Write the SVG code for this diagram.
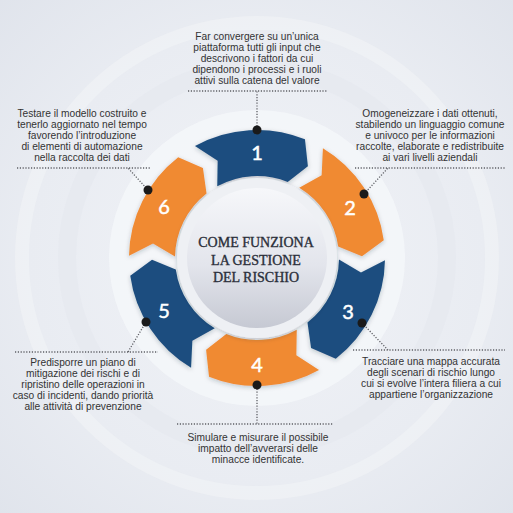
<svg xmlns="http://www.w3.org/2000/svg" xmlns:xlink="http://www.w3.org/1999/xlink" width="513" height="513" viewBox="0 0 513 513">
  <defs>
    <radialGradient id="bg" cx="257" cy="258" r="380" gradientUnits="userSpaceOnUse">
      <stop offset="0" stop-color="#f1f3f7"/>
      <stop offset="0.6" stop-color="#e9ecf2"/>
      <stop offset="1" stop-color="#dfe3eb"/>
    </radialGradient>
    <linearGradient id="disk" x1="0" y1="0" x2="0" y2="1">
      <stop offset="0" stop-color="#f6f7fa"/>
      <stop offset="0.55" stop-color="#e3e5ec"/>
      <stop offset="1" stop-color="#c6c9d3"/>
    </linearGradient>
    <filter id="sh" x="-20%" y="-20%" width="140%" height="140%">
      <feDropShadow dx="0" dy="1.5" stdDeviation="2" flood-color="#1a2a40" flood-opacity="0.25"/>
    </filter>
    <path id="seg" d="M-62.05,-111.95 A128,128 0 0 1 47.95,-118.68 L50.9,-91.83 L30.72,-76.03 A82,82 0 0 0 -39.75,-71.72 L-39.33,-97.36 Z"/>
    <style>
      .blue { fill: #1d4e7f; }
      .orange { fill: #f08a33; }
      .num { font-family: Lato, "Open Sans", sans-serif; font-size: 20px; fill: #ffffff; stroke: #ffffff; stroke-width: 0.5; text-anchor: middle; }
      .lbl { font-family: "Liberation Sans", Arial, sans-serif; font-size: 10.2px; fill: #333333; text-anchor: middle; }
      .title { font-family: "Liberation Serif", "Times New Roman", serif; font-size: 14px; fill: #2b2f3a; stroke: #2b2f3a; stroke-width: 0.35; text-anchor: middle; }
      .dot { fill: #1a1a1a; }
      .dl { stroke: #5f6066; stroke-width: 1.3; stroke-dasharray: 1.2 1.6; fill: none; }
    </style>
  </defs>

  <!-- background -->
  <rect width="513" height="513" fill="url(#bg)"/>
  <circle cx="257" cy="258" r="235" fill="none" stroke="#f3f5f8" stroke-width="14" opacity="0.5"/>
  <circle cx="257" cy="258" r="190" fill="none" stroke="#e5e8ee" stroke-width="18" opacity="0.6"/>
  <circle cx="257" cy="258" r="148" fill="#f5f7fa" opacity="0.8"/>

  <!-- ring segments -->
  <g id="segments" filter="url(#sh)">
    <g id="node1"><use xlink:href="#seg" class="blue" transform="translate(257 258)"/></g>
    <g id="node2"><use xlink:href="#seg" class="orange" transform="translate(257 258) rotate(60)"/></g>
    <g id="node3"><use xlink:href="#seg" class="blue" transform="translate(257 258) rotate(120)"/></g>
    <g id="node4"><use xlink:href="#seg" class="orange" transform="translate(257 258) rotate(180)"/></g>
    <g id="node5"><use xlink:href="#seg" class="blue" transform="translate(257 258) rotate(240)"/></g>
    <g id="node6"><use xlink:href="#seg" class="orange" transform="translate(257 258) rotate(300)"/></g>
  </g>

  <g id="numbers">
    <text class="num" x="257" y="160">1</text>
    <text class="num" x="350" y="215">2</text>
    <text class="num" x="348" y="319">3</text>
    <text class="num" x="257" y="372">4</text>
    <text class="num" x="164" y="318">5</text>
    <text class="num" x="164" y="214">6</text>
  </g>

  <!-- center -->
  <g id="center">
    <circle cx="257" cy="258" r="80" fill="#eef0f4" filter="url(#sh)"/>
    <circle cx="257" cy="258" r="70" fill="url(#disk)"/>
    <text class="title" x="256" y="247">COME FUNZIONA</text>
    <text class="title" x="256" y="265">LA GESTIONE</text>
    <text class="title" x="256" y="282">DEL RISCHIO</text>
  </g>

  <!-- connectors -->
  <g id="connectors">
    <path class="dl" d="M257,129 V91 M188,91 H327"/>
    <path class="dl" d="M364,194 L388,168 M355,168 H505"/>
    <path class="dl" d="M362,323 L388,350 M353,350 H505"/>
    <path class="dl" d="M257,386 V424 M177,424 H333"/>
    <path class="dl" d="M146,322 L128,352 M15,352 H158"/>
    <path class="dl" d="M148,190 L128,168 M17,168 H150"/>
    <circle class="dot" cx="257" cy="130" r="4.5"/>
    <circle class="dot" cx="364" cy="194" r="4.5"/>
    <circle class="dot" cx="362" cy="323" r="4.5"/>
    <circle class="dot" cx="257" cy="385" r="4.5"/>
    <circle class="dot" cx="146" cy="322" r="4.5"/>
    <circle class="dot" cx="148" cy="190" r="4.5"/>
  </g>

  <!-- labels -->
  <g id="label1">
    <text class="lbl" x="257" y="40">Far convergere su un’unica</text>
    <text class="lbl" x="257" y="51">piattaforma tutti gli input che</text>
    <text class="lbl" x="257" y="62">descrivono i fattori da cui</text>
    <text class="lbl" x="257" y="73">dipendono i processi e i ruoli</text>
    <text class="lbl" x="257" y="84">attivi sulla catena del valore</text>
  </g>
  <g id="label2">
    <text class="lbl" x="430" y="117">Omogeneizzare i dati ottenuti,</text>
    <text class="lbl" x="430" y="128">stabilendo un linguaggio comune</text>
    <text class="lbl" x="430" y="139">e univoco per le informazioni</text>
    <text class="lbl" x="430" y="150">raccolte, elaborate e redistribuite</text>
    <text class="lbl" x="430" y="161">ai vari livelli aziendali</text>
  </g>
  <g id="label3">
    <text class="lbl" x="431" y="365">Tracciare una mappa accurata</text>
    <text class="lbl" x="431" y="376">degli scenari di rischio lungo</text>
    <text class="lbl" x="431" y="387">cui si evolve l’intera filiera a cui</text>
    <text class="lbl" x="431" y="398">appartiene l’organizzazione</text>
  </g>
  <g id="label4">
    <text class="lbl" x="258" y="441">Simulare e misurare il possibile</text>
    <text class="lbl" x="258" y="452">impatto dell’avverarsi delle</text>
    <text class="lbl" x="258" y="463">minacce identificate.</text>
  </g>
  <g id="label5">
    <text class="lbl" x="83" y="366">Predisporre un piano di</text>
    <text class="lbl" x="83" y="377">mitigazione dei rischi e di</text>
    <text class="lbl" x="83" y="388">ripristino delle operazioni in</text>
    <text class="lbl" x="83" y="399">caso di incidenti, dando priorità</text>
    <text class="lbl" x="83" y="410">alle attività di prevenzione</text>
  </g>
  <g id="label6">
    <text class="lbl" x="82" y="117">Testare il modello costruito e</text>
    <text class="lbl" x="82" y="128">tenerlo aggiornato nel tempo</text>
    <text class="lbl" x="82" y="139">favorendo l’introduzione</text>
    <text class="lbl" x="82" y="150">di elementi di automazione</text>
    <text class="lbl" x="82" y="161">nella raccolta dei dati</text>
  </g>
</svg>
